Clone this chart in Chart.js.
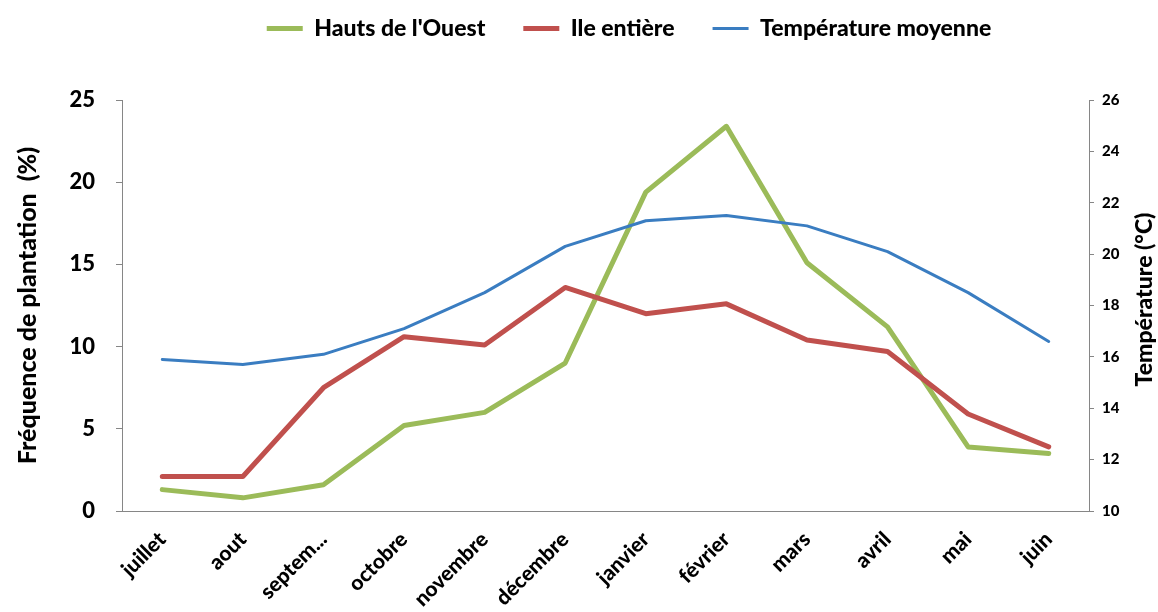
<!DOCTYPE html>
<html>
<head>
<meta charset="utf-8">
<script src="https://cdn.jsdelivr.net/npm/chart.js@4.4.0/dist/chart.umd.min.js"></script>
<style>
  html, body { margin: 0; padding: 0; background: #fff; }
</style>
</head>
<body>
<canvas id="plantation-chart" width="1158" height="612"></canvas>
<script>
// Months (July to June)
const months = ["juillet", "aout", "septem...", "octobre", "novembre", "décembre",
  "janvier", "février", "mars", "avril", "mai", "juin"];

// Planting frequency (%)
const hautsOuest = [1.3, 0.8, 1.6, 5.2, 6.0, 9.0, 19.4, 23.4, 15.1, 11.2, 3.9, 3.5];
const ileEntiere = [2.1, 2.1, 7.5, 10.6, 10.1, 13.6, 12.0, 12.6, 10.4, 9.7, 5.9, 3.9];

// Mean temperature (°C)
const tempMoyenne = [15.9, 15.7, 16.1, 17.1, 18.5, 20.3, 21.3, 21.5, 21.1, 20.1, 18.5, 16.6];

const FONT = "Lato, 'Liberation Sans', sans-serif";
const AXIS_GREY = "#868686";

// Legend taller than its text so the plot starts lower
const legendBox = {
  id: "legendBox",
  beforeInit(chart) {
    const fit = chart.legend.fit;
    chart.legend.fit = function () {
      fit.call(this);
      this.height = 121;
    };
  },
  afterLayout(chart) {
    chart.legend.left += 50;
    chart.legend.right += 50;
  },
};

// Right axis title, read bottom to top like the left one
const rightTitle = {
  id: "rightTitle",
  afterDraw(chart) {
    const ctx = chart.ctx;
    const area = chart.chartArea;
    ctx.save();
    ctx.translate(1145, (area.top + area.bottom) / 2 - 6);
    ctx.rotate(-Math.PI / 2);
    ctx.font = "900 23px " + FONT;
    ctx.fillStyle = "#000";
    ctx.textAlign = "center";
    ctx.textBaseline = "middle";
    ctx.fillText("Température (°C)", 0, 0);
    ctx.restore();
  },
};

const dataLineChart = {
  labels: months,
  datasets: [
    {
      label: "Hauts de l'Ouest",
      data: hautsOuest,
      borderColor: "#9BBB59",
      backgroundColor: "#9BBB59",
      borderWidth: 5,
      yAxisID: "y",
      order: 3,
    },
    {
      label: "Ile entière",
      data: ileEntiere,
      borderColor: "#C0504D",
      backgroundColor: "#C0504D",
      borderWidth: 5,
      yAxisID: "y",
      order: 2,
    },
    {
      label: "Température moyenne",
      data: tempMoyenne,
      borderColor: "#3A7DC1",
      backgroundColor: "#3A7DC1",
      borderWidth: 3,
      yAxisID: "y2",
      order: 1,
    },
  ],
};

const configLineChart = {
  type: "line",
  data: dataLineChart,
  options: {
    responsive: false,
    animation: false,
    devicePixelRatio: 1,
    layout: { padding: { top: -21, left: 0, right: 0, bottom: 0 } },
    elements: {
      point: { radius: 0, hoverRadius: 0 },
      line: { tension: 0, borderCapStyle: "round", borderJoinStyle: "round" },
    },
    plugins: {
      tooltip: { enabled: false },
      legend: {
        position: "top",
        labels: {
          usePointStyle: true,
          pointStyle: "line",
          pointStyleWidth: 36,
          padding: 38,
          color: "#000",
          font: { family: FONT, size: 23, weight: "900" },
          sort: (a, b) => a.datasetIndex - b.datasetIndex,
        },
      },
    },
    scales: {
      x: {
        offset: true,
        grid: { display: false },
        border: { display: true, color: AXIS_GREY, width: 1 },
        ticks: {
          color: "#000",
          minRotation: 45,
          maxRotation: 45,
          autoSkip: false,
          padding: 8,
          font: { family: FONT, size: 21, weight: "900" },
        },
        afterFit: (scale) => { scale.height = 101; },
      },
      y: {
        position: "left",
        min: 0,
        max: 25,
        grid: { display: true, drawOnChartArea: false, drawTicks: true, tickLength: 6, color: AXIS_GREY },
        border: { display: true, color: AXIS_GREY, width: 1 },
        ticks: {
          stepSize: 5,
          color: "#000",
          padding: 21,
          font: { family: FONT, size: 22, weight: "900" },
        },
        title: {
          display: true,
          text: "Fréquence de plantation  (%)",
          color: "#000",
          padding: { top: 13, bottom: 0 },
          font: { family: FONT, size: 25, weight: "900" },
        },
        afterFit: (scale) => { scale.width = 122; },
      },
      y2: {
        position: "right",
        min: 10,
        max: 26,
        grid: { display: true, drawOnChartArea: false, drawTicks: true, tickLength: 5, color: AXIS_GREY },
        border: { display: true, color: AXIS_GREY, width: 1 },
        ticks: {
          stepSize: 2,
          color: "#000",
          padding: 8,
          font: { family: FONT, size: 15, weight: "900" },
        },
        afterFit: (scale) => { scale.width = 69; },
      },
    },
  },
  plugins: [legendBox, rightTitle],
};

const plantationChart = new Chart(
  document.getElementById("plantation-chart"),
  configLineChart
);
</script>
</body>
</html>
